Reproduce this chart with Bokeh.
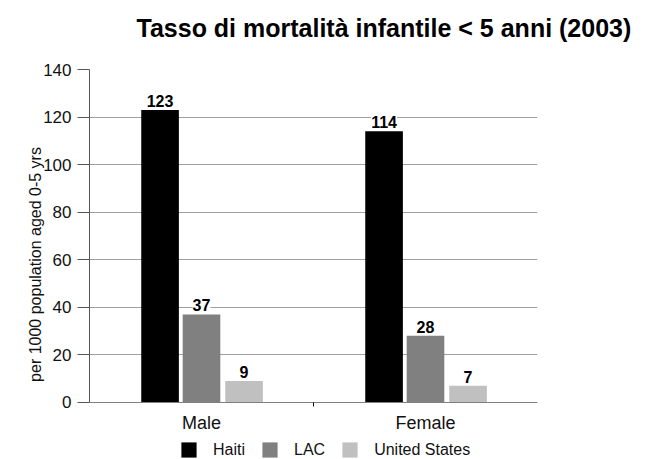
from bokeh.plotting import figure
from bokeh.models import (Range1d, FixedTicker, Legend, LegendItem, LabelSet,
                          ColumnDataSource, Title)
from bokeh.core.properties import value
from bokeh.embed import file_html
from bokeh.resources import INLINE

# ---- data ----
categories = ["Male", "Female"]
series = ["Haiti", "LAC", "United States"]
haiti = [123, 114]
lac = [37, 28]
united_states = [9, 7]
y_ticks = [0, 20, 40, 60, 80, 100, 120, 140]
title_text = "Tasso di mortalità infantile < 5 anni (2003)"
y_label = "per 1000 population aged 0-5 yrs"

# ---- style ----
colors = ["#000000", "#808080", "#c0c0c0"]
offsets = [-0.185, 0.0, 0.19]
bar_width = 0.168
FONT = "Liberation Sans"

centers = [i + 0.5 for i in range(len(categories))]

# frame extends below the x axis (y < 0) so the legend can sit there
p = figure(frame_width=448, frame_height=390, output_backend="svg",
           toolbar_location=None, title=None,
           x_range=Range1d(0, len(categories)), y_range=Range1d(-24, 140),
           min_border_left=89, min_border_right=110, min_border_top=69,
           min_border_bottom=0)
p.outline_line_color = None
p.background_fill_color = "white"
p.border_fill_color = "white"

# spacer (nearest the frame) then the real title above it
spacer = Title(text=" ", text_font=FONT, text_font_size="14px", standoff=10)
p.add_layout(spacer, "above")
main_title = Title(text=title_text, text_font=FONT, text_font_size="25px",
                   text_font_style="bold", text_color="#000000",
                   align="left", offset=47, standoff=0)
p.add_layout(main_title, "above")

# grids
p.xgrid.grid_line_color = None
p.ygrid.grid_line_color = "#a0a0a0"
p.ygrid.grid_line_width = 1
p.ygrid.ticker = FixedTicker(ticks=y_ticks)

# y axis
p.yaxis.ticker = FixedTicker(ticks=y_ticks)
p.yaxis.bounds = (0, 140)
p.yaxis.axis_line_color = "#555555"
p.yaxis.major_tick_line_color = "#555555"
p.yaxis.major_tick_out = 12
p.yaxis.major_tick_in = 0
p.yaxis.minor_tick_line_color = None
p.yaxis.major_label_text_font = FONT
p.yaxis.major_label_text_font_size = "17px"
p.yaxis.major_label_text_color = "#111111"
p.yaxis.major_label_standoff = 6
p.yaxis.axis_label = y_label
p.yaxis.axis_label_text_font = FONT
p.yaxis.axis_label_text_font_size = "16px"
p.yaxis.axis_label_text_font_style = "normal"
p.yaxis.axis_label_text_color = "#111111"
p.yaxis.axis_label_standoff = -4

# x axis, pinned at y = 0
p.xaxis.fixed_location = 0
p.xaxis.ticker = FixedTicker(ticks=centers, minor_ticks=[1.0])
p.xaxis.major_label_overrides = {c: cat for c, cat in zip(centers, categories)}
p.xaxis.axis_line_color = "#808080"
p.xaxis.axis_line_width = 1
p.xaxis.major_tick_line_color = None
p.xaxis.major_tick_out = 0
p.xaxis.major_tick_in = 0
p.xaxis.minor_tick_line_color = "#000000"
p.xaxis.minor_tick_out = 4
p.xaxis.minor_tick_in = 0
p.xaxis.major_label_text_font = FONT
p.xaxis.major_label_text_font_size = "18px"
p.xaxis.major_label_text_color = "#111111"
p.xaxis.major_label_standoff = 7
p.xaxis.axis_label = None
p.xaxis.axis_label_standoff = 0

values = [haiti, lac, united_states]
items = []
for name, vals, col, off in zip(series, values, colors, offsets):
    xs = [c + off for c in centers]
    src = ColumnDataSource(dict(x=xs, top=vals, lbl=[str(v) for v in vals]))
    r = p.vbar(x="x", top="top", width=bar_width, source=src,
               fill_color=col, line_color=None)
    items.append(LegendItem(label=name, renderers=[r]))
    labels = LabelSet(x="x", y="top", text="lbl", source=src,
                      text_align="center", text_baseline="bottom",
                      y_offset=3, text_font=value(FONT), text_font_size="16px",
                      text_font_style="bold", text_color="#000000",
                      background_fill_color="white")
    p.add_layout(labels)

legend = Legend(items=items, orientation="horizontal", location=(90, 0))
legend.border_line_color = None
legend.background_fill_alpha = 0
legend.margin = 0
legend.padding = 2
legend.spacing = 15
legend.glyph_width = 19
legend.glyph_height = 19
legend.label_height = 19
legend.label_standoff = 15
legend.label_text_font = FONT
legend.label_text_font_size = "16px"
legend.label_text_color = "#111111"
p.add_layout(legend)

open("out.html", "w").write(file_html(p, INLINE))
